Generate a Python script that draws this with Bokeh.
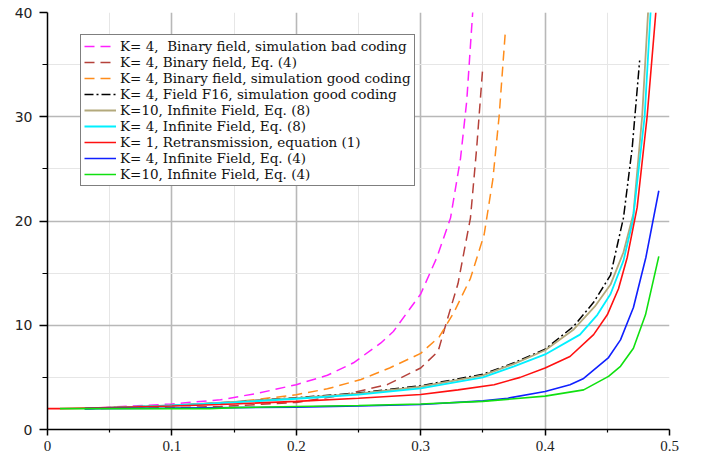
from bokeh.plotting import figure
from bokeh.models import Legend, LegendItem, FixedTicker, Range1d
from bokeh.embed import file_html
from bokeh.resources import INLINE

# ---------------- data ----------------
x_ticks = [0, 0.1, 0.2, 0.3, 0.4, 0.5]
x_tick_labels = ["0", "0.1", "0.2", "0.3", "0.4", "0.5"]
x_minor = [0.05, 0.15, 0.25, 0.35, 0.45]
y_ticks = [0, 10, 20, 30, 40]
y_tick_labels = ["0", "10", "20", "30", "40"]
y_minor = [5, 15, 25, 35]

bad_x = [0.03, 0.06, 0.1, 0.139, 0.17, 0.2, 0.225, 0.246, 0.268, 0.278, 0.3, 0.313, 0.324, 0.332, 0.337, 0.342]
bad_y = [2.0, 2.2, 2.45, 2.85, 3.5, 4.3, 5.2, 6.4, 8.3, 9.4, 13.0, 16.5, 20.3, 26.0, 31.5, 40.4]

bin4_x = [0.03, 0.1, 0.139, 0.2, 0.233, 0.273, 0.3, 0.314, 0.321, 0.33, 0.34, 0.345, 0.35]
bin4_y = [2.0, 2.1, 2.2, 2.6, 3.2, 4.3, 5.9, 7.5, 10.4, 14.0, 20.3, 27.0, 34.9]

good_x = [0.03, 0.1, 0.139, 0.17, 0.2, 0.225, 0.252, 0.275, 0.3, 0.315, 0.327, 0.34, 0.351, 0.358, 0.363, 0.368]
good_y = [2.0, 2.3, 2.5, 2.9, 3.34, 3.9, 4.8, 5.9, 7.3, 8.9, 11.3, 14.5, 18.7, 24.0, 30.0, 38.1]

f16_x = [0.03, 0.1, 0.15, 0.2, 0.25, 0.3, 0.35, 0.375, 0.4, 0.423, 0.439, 0.4526, 0.463, 0.47, 0.476]
f16_y = [2.0, 2.3, 2.65, 3.05, 3.5, 4.2, 5.3, 6.4, 7.7, 9.9, 12.2, 14.8, 20.3, 27.0, 35.4]

k10e8_x = [0.03, 0.1, 0.15, 0.2, 0.25, 0.3, 0.35, 0.375, 0.4, 0.423, 0.44, 0.4526, 0.463, 0.471, 0.478, 0.483]
k10e8_y = [2.0, 2.3, 2.65, 3.0, 3.45, 4.1, 5.2, 6.3, 7.6, 9.6, 11.8, 13.9, 17.0, 20.7, 30.0, 40.5]

k4e8_x = [0.03, 0.1, 0.15, 0.2, 0.25, 0.3, 0.35, 0.375, 0.4, 0.428, 0.442, 0.4526, 0.463, 0.4705, 0.48, 0.485]
k4e8_y = [2.0, 2.3, 2.6, 2.95, 3.35, 3.95, 5.0, 6.06, 7.2, 9.1, 11.0, 13.0, 16.2, 20.0, 30.0, 40.5]

k1_x = [0.0, 0.01, 0.05, 0.1, 0.139, 0.15, 0.2, 0.25, 0.3, 0.33, 0.359, 0.38, 0.4, 0.42, 0.439, 0.45, 0.459, 0.466, 0.474, 0.482, 0.489]
k1_y = [2.0, 2.0, 2.1, 2.25, 2.4, 2.45, 2.7, 3.0, 3.35, 3.8, 4.3, 5.0, 5.9, 7.0, 9.1, 11.0, 13.5, 16.5, 21.3, 30.0, 40.0]

k4e4_x = [0.03, 0.1, 0.15, 0.2, 0.25, 0.3, 0.35, 0.37, 0.4, 0.42, 0.431, 0.451, 0.4606, 0.471, 0.481, 0.4914]
k4e4_y = [2.0, 2.05, 2.1, 2.15, 2.25, 2.4, 2.75, 3.0, 3.65, 4.3, 4.9, 6.9, 8.6, 11.7, 16.5, 22.9]

k10e4_x = [0.01, 0.05, 0.1, 0.13, 0.15, 0.2, 0.25, 0.3, 0.35, 0.4, 0.431, 0.451, 0.4606, 0.471, 0.4807, 0.4914]
k10e4_y = [2.0, 2.0, 2.0, 2.0, 2.1, 2.2, 2.3, 2.45, 2.7, 3.2, 3.8, 5.1, 6.06, 7.8, 11.0, 16.6]

labels = [
    "K= 4,  Binary field, simulation bad coding",
    "K= 4, Binary field, Eq. (4)",
    "K= 4, Binary field, simulation good coding",
    "K= 4, Field F16, simulation good coding",
    "K=10, Infinite Field, Eq. (8)",
    "K= 4, Infinite Field, Eq. (8)",
    "K= 1, Retransmission, equation (1)",
    "K= 4, Infinite Field, Eq. (4)",
    "K=10, Infinite Field, Eq. (4)",
]

series = [
    (bad_x, bad_y, "#ff20ff", "10 6", 1.5),
    (bin4_x, bin4_y, "#b5413a", "10 6", 1.5),
    (good_x, good_y, "#ff8c1a", "10 6", 1.5),
    (f16_x, f16_y, "#000000", "9 3 2 3", 1.5),
    (k10e8_x, k10e8_y, "#b3a97c", "solid", 1.8),
    (k4e8_x, k4e8_y, "#00f0ff", "solid", 1.8),
    (k1_x, k1_y, "#ff1010", "solid", 1.6),
    (k4e4_x, k4e4_y, "#1020ff", "solid", 1.6),
    (k10e4_x, k10e4_y, "#10e010", "solid", 1.6),
]

p = figure(frame_width=622, frame_height=417,
           x_range=Range1d(0, 0.5), y_range=Range1d(0, 40),
           output_backend="svg", toolbar_location=None,
           min_border_left=47, min_border_top=12, min_border_right=20,
           min_border_bottom=0)
p.outline_line_color = None
p.background_fill_color = "white"

p.xaxis.ticker = FixedTicker(ticks=x_ticks, minor_ticks=x_minor)
p.yaxis.ticker = FixedTicker(ticks=y_ticks, minor_ticks=y_minor)
p.xaxis.major_label_overrides = dict(zip(x_ticks, x_tick_labels))
p.yaxis.major_label_overrides = dict(zip(y_ticks, y_tick_labels))

for ax in (p.xaxis[0], p.yaxis[0]):
    ax.axis_line_color = "black"
    ax.axis_line_width = 1.5
    ax.major_tick_line_color = "black"
    ax.major_tick_line_width = 1.5
    ax.minor_tick_line_color = "black"
    ax.minor_tick_line_width = 1.2
    ax.major_tick_in = 0
    ax.minor_tick_in = 0
    ax.major_label_text_color = "#222222"

p.xaxis.major_tick_out = 6
p.xaxis.minor_tick_out = 3
p.xaxis.major_label_standoff = 5
p.xaxis.major_label_text_font = "Liberation Serif"
p.xaxis.major_label_text_font_size = "15px"

p.yaxis.major_tick_out = 8
p.yaxis.minor_tick_out = 5
p.yaxis.major_label_standoff = 7
p.yaxis.major_label_text_font = "DejaVu Sans"
p.yaxis.major_label_text_font_size = "14px"

for g in (p.xgrid[0], p.ygrid[0]):
    g.grid_line_color = "#b8b8b8"
    g.grid_line_width = 1.6
    g.minor_grid_line_color = "#e6e6e6"
    g.minor_grid_line_width = 1

items = []
for (xs, ys, col, dash, lw), lab in zip(series, labels):
    r = p.line(xs, ys, line_color=col, line_dash=dash, line_width=lw)
    items.append(LegendItem(label=lab, renderers=[r]))

legend = Legend(items=items, location=(33, 243),
                border_line_color="black", border_line_width=1.2,
                background_fill_color="white", background_fill_alpha=1.0,
                padding=3, spacing=0, margin=0,
                label_text_font="DejaVu Serif", label_text_font_size="13.5px",
                label_text_color="#111111",
                glyph_width=32, glyph_height=16, label_height=16,
                label_standoff=4)
p.add_layout(legend, "center")

open("out.html", "w").write(file_html(p, INLINE))
